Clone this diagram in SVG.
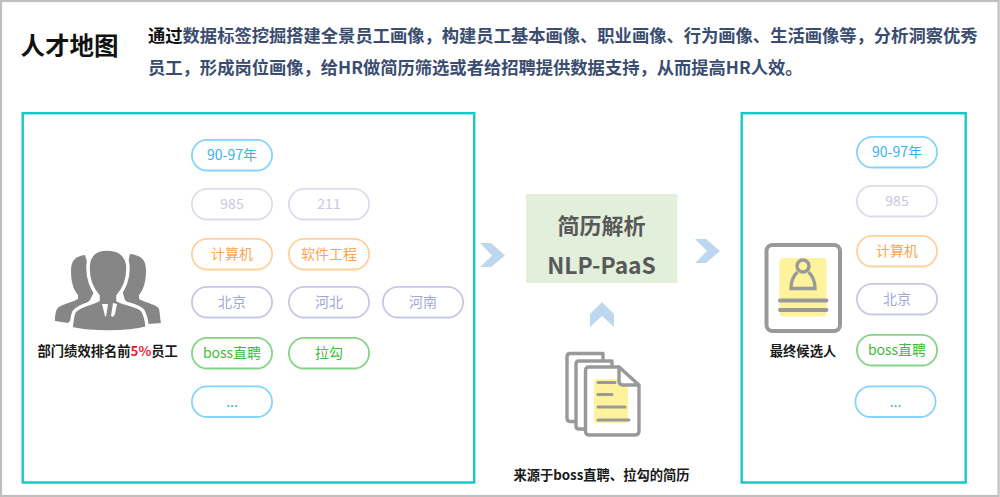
<svg xmlns="http://www.w3.org/2000/svg" width="1000" height="497" viewBox="0 0 1000 497">
<style>
text{font-family:"Noto Sans CJK SC","Noto Sans",sans-serif}
.pill rect{fill:#fff;stroke-width:1.8}
.pill text{font-size:14px;text-anchor:middle}
.blue rect{stroke:#86d3fd}.blue text{fill:#35b2f6}
.pale rect{stroke:#dedaee}.pale text{fill:#c9c5e2}
.orange rect{stroke:#ffd09a}.orange text{fill:#f8a653}
.violet rect{stroke:#c6c7e6}.violet text{fill:#a4a6d8}
.green rect{stroke:#84d583}.green text{fill:#41bb3d}
.frame{fill:#fff;stroke:#12c8c8;stroke-width:2.4}
.cap{font-size:13.3px;font-weight:700;fill:#1a1a1a}
.intro{font-size:17.3px;font-weight:700;fill:#3a4d70}
.chev{fill:#bdd7ee}
.ico{fill:#fff;stroke:#999;stroke-width:3.4;stroke-linejoin:round}
.ln{stroke:#999;fill:none;stroke-linecap:round}
.yel{fill:#fff29c}
</style>
<rect x="1" y="1" width="997.6" height="495" fill="#fff" stroke="#bfbfbf" stroke-width="2.2"/>

<g id="header">
<text x="20.500" y="55" font-size="24.500" font-weight="700" fill="#111">人才地图</text>
<text class="intro" x="148" y="42"><tspan fill="#111">通过</tspan>数据标签挖掘搭建全景员工画像，构建员工基本画像、职业画像、行为画像、生活画像等，分析洞察优秀</text>
<text class="intro" x="148" y="74">员工，形成岗位画像，给HR做简历筛选或者给招聘提供数据支持，从而提高HR人效。</text>
</g>

<g id="source-panel">
<rect class="frame" x="22.700" y="113.200" width="451.500" height="369.300"/>
<g id="people-icon" fill="#868686">
<path d="M85 255C76 256 71 260 71 271C71 281 73 289 78 295L78 299C72 303 60 304 57 309C55 313 55 319 55 321L68 323L90 300L95 290Z"/>
<path d="M130 254C140 255 146 259 146 270C146 281 144 289 139 295L139 299C145 303 157 304 159 309C160 313 160 319 161 323L148 324L125 300L122 290Z"/>
<path stroke="#fff" stroke-width="3.500" d="M107 249C95 249 88 255 88 268C88 279 92 289 98 296L98 300C91 304 78 305 74 312C72 316 72 322 71 328L73 329C82 331 95 332 108 332C122 332 136 331 147 328C147 321 146 317 143 311C139 305 124 304 118 300L118 296C124 289 128 279 128 268C128 255 119 249 107 249Z"/>
<path d="M102 304L108 304L106 317L105 316Z" fill="#fff"/>
<path d="M111 316L113 303L117 304L115 314L113 317Z" fill="#fff"/>
</g>
<text class="cap" x="37.500" y="356">部门绩效排名前<tspan fill="#ee1c3c">5%</tspan>员工</text>
<g id="s-age" class="pill blue" transform="translate(191,139)"><rect x="0.900" y="0.900" width="80.200" height="30.600" rx="15.300"/><text x="41" y="21">90-97年</text></g>
<g id="s-985" class="pill pale" transform="translate(191,188)"><rect x="0.900" y="0.900" width="80.200" height="30.600" rx="15.300"/><text x="41" y="21">985</text></g>
<g id="s-211" class="pill pale" transform="translate(288,188)"><rect x="0.900" y="0.900" width="80.200" height="30.600" rx="15.300"/><text x="41" y="21">211</text></g>
<g id="s-cs" class="pill orange" transform="translate(191,238)"><rect x="0.900" y="0.900" width="80.200" height="30.600" rx="15.300"/><text x="41" y="21">计算机</text></g>
<g id="s-se" class="pill orange" transform="translate(288,238)"><rect x="0.900" y="0.900" width="80.200" height="30.600" rx="15.300"/><text x="41" y="21">软件工程</text></g>
<g id="s-bj" class="pill violet" transform="translate(191,286)"><rect x="0.900" y="0.900" width="80.200" height="30.600" rx="15.300"/><text x="41" y="21">北京</text></g>
<g id="s-hb" class="pill violet" transform="translate(288,286)"><rect x="0.900" y="0.900" width="80.200" height="30.600" rx="15.300"/><text x="41" y="21">河北</text></g>
<g id="s-hn" class="pill violet" transform="translate(382,286)"><rect x="0.900" y="0.900" width="80.200" height="30.600" rx="15.300"/><text x="41" y="21">河南</text></g>
<g id="s-boss" class="pill green" transform="translate(191,337)"><rect x="0.900" y="0.900" width="80.200" height="30.600" rx="15.300"/><text x="41" y="21">boss直聘</text></g>
<g id="s-lagou" class="pill green" transform="translate(288,337)"><rect x="0.900" y="0.900" width="80.200" height="30.600" rx="15.300"/><text x="41" y="21">拉勾</text></g>
<g id="s-more" class="pill blue" transform="translate(191,385.500)"><rect x="0.900" y="0.900" width="80.200" height="30.600" rx="15.300"/><text x="41" y="21">...</text></g>
</g>

<g id="parser">
<rect x="526" y="194" width="151.500" height="89" fill="#e2efda"/>
<text x="601.500" y="234" font-size="22" font-weight="700" fill="#595959" text-anchor="middle">简历解析</text>
<text x="601.500" y="274" font-size="22.800" font-weight="700" fill="#595959" text-anchor="middle">NLP-PaaS</text>
</g>

<g id="resume-source">
<g id="docs-icon">
<path class="ico" stroke-width="3" d="M603 353.500H570Q567 353.500 567 357V418Q567 421.500 570 421.500H580V380L603 362Z"/>
<path class="ico" stroke-width="3" d="M612 361H579Q576 361 576 364V426Q576 429 579 429H590V380L612 370Z"/>
<path class="ico" d="M619 367H589Q585.500 367 585.500 371V431Q585.500 435 589 435H635Q639 435 639 431V386Z"/>
<rect class="yel" x="594" y="379" width="34" height="44" rx="2"/>
<path class="ico" d="M619 367V381Q619 385 623 385H639Z"/>
<path class="ln" stroke-width="3" d="M598 382.500H615M598 394.500H612M598 407H625M598 420H629"/>
</g>
<text class="cap" x="601.500" y="480" text-anchor="middle">来源于boss直聘、拉勾的简历</text>
</g>

<g id="result-panel">
<rect class="frame" x="741.700" y="113.200" width="224" height="369.300"/>
<g id="resume-icon">
<rect x="766.500" y="245" width="73.500" height="86" rx="6" fill="#fff" stroke="#999" stroke-width="4"/>
<rect class="yel" x="779.500" y="258" width="47" height="58.500" rx="4"/>
<circle cx="803" cy="266" r="6" fill="none" stroke="#999" stroke-width="3.400"/>
<path d="M797.500 272C792 277 791 283 791 288.500H815C815 283 814 277 808.500 272" fill="none" stroke="#999" stroke-width="3.400"/>
<path class="ln" stroke-width="4" d="M780 300.500H826.500M780 310H826.500"/>
</g>
<text class="cap" x="803" y="356" text-anchor="middle">最终候选人</text>
<g id="r-age" class="pill blue" transform="translate(856,136)"><rect x="0.900" y="0.900" width="80.200" height="30.600" rx="15.300"/><text x="41" y="21">90-97年</text></g>
<g id="r-985" class="pill pale" transform="translate(856,185)"><rect x="0.900" y="0.900" width="80.200" height="30.600" rx="15.300"/><text x="41" y="21">985</text></g>
<g id="r-cs" class="pill orange" transform="translate(856,235)"><rect x="0.900" y="0.900" width="80.200" height="30.600" rx="15.300"/><text x="41" y="21">计算机</text></g>
<g id="r-bj" class="pill violet" transform="translate(856,283)"><rect x="0.900" y="0.900" width="80.200" height="30.600" rx="15.300"/><text x="41" y="21">北京</text></g>
<g id="r-boss" class="pill green" transform="translate(856,334)"><rect x="0.900" y="0.900" width="80.200" height="30.600" rx="15.300"/><text x="41" y="21">boss直聘</text></g>
<g id="r-more" class="pill blue" transform="translate(854.500,385.500)"><rect x="0.900" y="0.900" width="80.200" height="30.600" rx="15.300"/><text x="41" y="21">...</text></g>
</g>

<g id="connectors">
<path class="chev" d="M480 243H491L505 255.500L491 267H480L492 255.500Z"/>
<path class="chev" d="M695 239H706L720 251L706 263H695L707 251Z"/>
<path class="chev" d="M590 327V314L602 302L614 314V327L602 316Z"/>
</g>
</svg>
